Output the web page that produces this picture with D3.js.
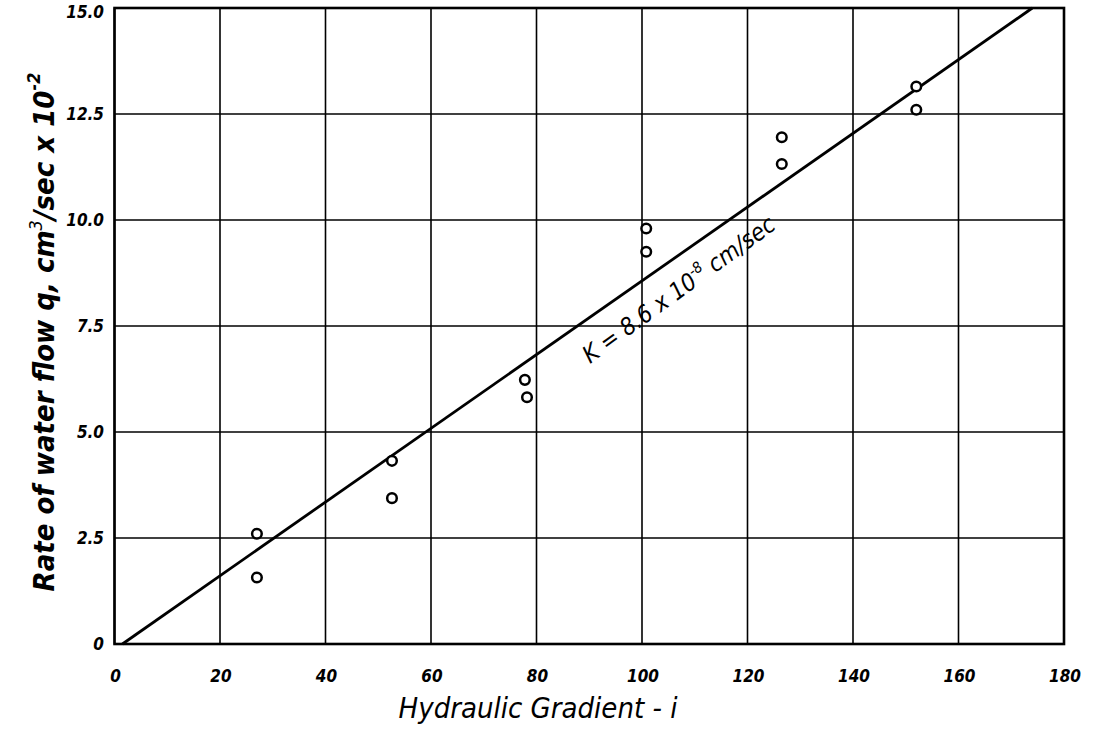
<!DOCTYPE html>
<html>
<head>
  <title>Rate of water flow vs Hydraulic Gradient</title>
  <script src="https://d3js.org/d3.v7.min.js"></script>
  <style>
  body {
    margin: 0;
    background: #fff;
    font-family: "DejaVu Sans Condensed", "DejaVu Sans", sans-serif;
  }
  .grid line {
    stroke: #000;
    stroke-width: 1.6px;
  }
  .tick-label {
    font-style: italic;
    font-weight: bold;
    font-size: 17px;
  }
  .title {
    font-style: italic;
    font-size: 29px;
  }
  </style>
</head>
<body>
  <div id="chart"></div>
  <script>
    // data
    var gradient = [27, 27, 52.6, 52.6, 77.8, 78.2, 100.8, 100.8, 126.5, 126.5, 152, 152];
    var flowRate = [2.6, 1.57, 4.32, 3.44, 6.23, 5.82, 9.8, 9.25, 11.95, 11.32, 13.15, 12.6];
    var fitX = [1.5, 174];
    var fitY = [0, 15];
    var xTicks = [0, 20, 40, 60, 80, 100, 120, 140, 160, 180];
    var yTicks = [0, 2.5, 5, 7.5, 10, 12.5, 15];
    var yTickLabels = ["0", "2.5", "5.0", "7.5", "10.0", "12.5", "15.0"];

    var width = 1096, height = 736;

    var svg = d3.select("#chart").append("svg")
      .attr("width", width)
      .attr("height", height);

    var x = d3.scaleLinear().domain([0, 180]).range([114.5, 1064]);
    var y = d3.scaleLinear().domain([0, 15]).range([644, 8]);

    // grid
    var grid = svg.append("g").attr("class", "grid");
    grid.selectAll(".vx").data(xTicks).enter().append("line")
      .attr("x1", function(d) { return x(d); })
      .attr("x2", function(d) { return x(d); })
      .attr("y1", y(0)).attr("y2", y(15));
    grid.selectAll(".hy").data(yTicks).enter().append("line")
      .attr("y1", function(d) { return y(d); })
      .attr("y2", function(d) { return y(d); })
      .attr("x1", x(0)).attr("x2", x(180));

    // frame
    svg.append("rect")
      .attr("x", x(0)).attr("y", y(15))
      .attr("width", x(180) - x(0))
      .attr("height", y(0) - y(15))
      .attr("fill", "none")
      .attr("stroke", "#000")
      .attr("stroke-width", 2.6);

    // tick labels
    svg.selectAll(".xl").data(xTicks).enter().append("text")
      .attr("class", "tick-label")
      .attr("x", function(d) { return x(d) + 1; })
      .attr("y", 682)
      .attr("text-anchor", "middle")
      .text(function(d) { return d; });

    svg.selectAll(".yl").data(yTicks).enter().append("text")
      .attr("class", "tick-label")
      .attr("x", 104)
      .attr("y", function(d) { return Math.max(y(d) + 6, 18); })
      .attr("text-anchor", "end")
      .text(function(d, i) { return yTickLabels[i]; });

    // fitted line
    var line = d3.line()
      .x(function(d) { return x(d[0]); })
      .y(function(d) { return y(d[1]); });
    svg.append("path")
      .datum(d3.zip(fitX, fitY))
      .attr("d", line)
      .attr("fill", "none")
      .attr("stroke", "#000")
      .attr("stroke-width", 2.8);

    // measured points
    svg.selectAll(".pt").data(d3.zip(gradient, flowRate)).enter().append("circle")
      .attr("cx", function(d) { return x(d[0]); })
      .attr("cy", function(d) { return y(d[1]); })
      .attr("r", 4.8)
      .attr("fill", "#fff")
      .attr("stroke", "#000")
      .attr("stroke-width", 2.5);

    // annotation along the line
    var ann = svg.append("text")
      .attr("transform", "translate(590,364) rotate(-36)")
      .attr("font-style", "italic")
      .attr("font-size", 24);
    ann.append("tspan").text("K = 8.6 x 10");
    ann.append("tspan").attr("dy", -10).attr("font-size", 15).text("-8");
    ann.append("tspan").attr("dy", 10).text(" cm/sec");

    // axis titles
    svg.append("text")
      .attr("class", "title")
      .attr("x", 538)
      .attr("y", 718)
      .attr("text-anchor", "middle")
      .text("Hydraulic  Gradient  - i");

    var yt = svg.append("text")
      .attr("class", "title")
      .attr("transform", "translate(54,332) rotate(-90)")
      .attr("text-anchor", "middle");
    yt.append("tspan").attr("font-weight", "bold").text("Rate of water flow  ");
    yt.append("tspan").attr("font-weight", "bold").text("q, cm");
    yt.append("tspan").attr("dy", -12).attr("font-size", 18).text("3");
    yt.append("tspan").attr("dy", 12).attr("font-weight", "bold").text("/sec x 10");
    yt.append("tspan").attr("dy", -14).attr("font-size", 18).attr("font-weight", "bold").text("-2");
  </script>
</body>
</html>
